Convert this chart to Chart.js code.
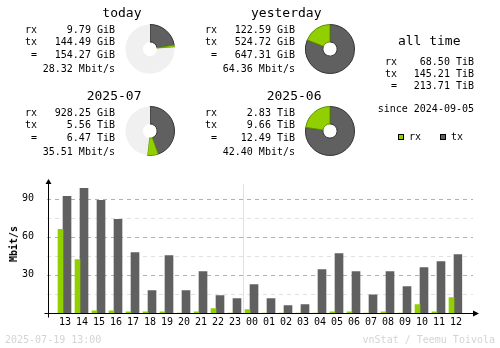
<!DOCTYPE html>
<html>
<head>
<meta charset="utf-8">
<script src="https://cdn.jsdelivr.net/npm/chart.js@4"></script>
<style>
body { margin: 0; background: #fff; }
#wrap { position: relative; width: 500px; height: 348px; overflow: hidden; background: #fff; }
#wrap canvas { position: absolute; }
.t { position: absolute; white-space: pre; color: #000; font-family: "DejaVu Sans Mono", monospace; }
</style>
</head>
<body>
<div id="wrap">
  <canvas id="bars" width="500" height="348" style="left:0;top:0"></canvas>
  <canvas id="pie0" width="50" height="50" style="left:125px;top:24px"></canvas>
  <canvas id="pie1" width="50" height="50" style="left:305px;top:24px"></canvas>
  <canvas id="pie2" width="50" height="50" style="left:125px;top:106px"></canvas>
  <canvas id="pie3" width="50" height="50" style="left:305px;top:106px"></canvas>
</div>
<script>
// summary blocks
const periods = ['today', 'yesterday', '2025-07', '2025-06'];
const rxTraffic = ['9.79 GiB', '122.59 GiB', '928.25 GiB', '2.83 TiB'];
const txTraffic = ['144.49 GiB', '524.72 GiB', '5.56 TiB', '9.66 TiB'];
const totalTraffic = ['154.27 GiB', '647.31 GiB', '6.47 TiB', '12.49 TiB'];
const avgRate = ['28.32 Mbit/s', '64.36 Mbit/s', '35.51 Mbit/s', '42.40 Mbit/s'];

const allTime = ['68.50 TiB', '145.21 TiB', '213.71 TiB'];
const sinceDate = '2024-09-05';

// hourly bars
const hours = ['13','14','15','16','17','18','19','20','21','22','23',
               '00','01','02','03','04','05','06','07','08','09','10','11','12'];
const rxRate = [65.8, 42.1, 1.8, 1.8, 1.0, 1.0, 1.0, 0, 1.0, 3.4, 0,
                2.6, 0, 0, 0, 0, 1.0, 1.0, 0, 1.0, 0, 6.6, 1.0, 12.1];
const txRate = [91.8, 98.1, 88.7, 73.7, 47.6, 17.6, 45.2, 17.6, 32.6, 13.7, 11.3,
                22.3, 11.3, 5.8, 6.6, 34.2, 46.8, 32.6, 14.4, 32.6, 20.8, 35.8, 40.5, 46.0];
const yTicks = [30, 60, 90];

const RX = '#92cf00', RXD = '#5f8f00', TX = '#606060', TXD = '#333333', PIEBG = '#f0f0f0';

const wrap = document.getElementById('wrap');
function put(txt, x, y, align, size, extra) {
  const d = document.createElement('div');
  d.className = 't';
  d.textContent = txt;
  d.style.fontSize = size + 'px';
  d.style.lineHeight = size + 'px';
  d.style.top = (y - size * 0.5) + 'px';
  if (align == 'right') d.style.right = (500 - x) + 'px';
  else d.style.left = x + 'px';
  if (extra) Object.assign(d.style, extra);
  wrap.appendChild(d);
  return d;
}

function toGiB(s) {
  const p = s.split(' ');
  return parseFloat(p[0]) * (p[1] == 'TiB' ? 1024 : 1);
}

// text blocks
const blockX = [0, 180, 0, 180];
const blockY = [0, 0, 83, 83];
for (let i = 0; i < periods.length; i++) {
  const bx = blockX[i], by = blockY[i];
  put(periods[i], 141.5 + bx, 12 + by, 'right', 13);
  put('rx', 25 + bx, 29.5 + by, 'left', 10);
  put('tx', 25 + bx, 42 + by, 'left', 10);
  put('=', 31 + bx, 54.5 + by, 'left', 10);
  put(rxTraffic[i], 115 + bx, 29.5 + by, 'right', 10);
  put(txTraffic[i], 115 + bx, 42 + by, 'right', 10);
  put(totalTraffic[i], 115 + bx, 54.5 + by, 'right', 10);
  put(avgRate[i], 115 + bx, 69 + by, 'right', 10);
}

put('all time', 460.5, 40, 'right', 13);
put('rx', 385, 62, 'left', 10);
put('tx', 385, 74, 'left', 10);
put('=', 391, 86, 'left', 10);
put(allTime[0], 474, 62, 'right', 10);
put(allTime[1], 474, 74, 'right', 10);
put(allTime[2], 474, 86, 'right', 10);
put('since ' + sinceDate, 474, 108.5, 'right', 10);

// legend
function box(x, y, fill, edge) {
  const d = document.createElement('div');
  Object.assign(d.style, { position: 'absolute', left: x + 'px', top: y + 'px', width: '4px', height: '4px',
    background: fill, border: '1px solid ' + edge });
  wrap.appendChild(d);
}
box(398, 134, RX, '#000');
box(440, 134, TX, '#000');
put('rx', 409, 136.5, 'left', 10);
put('tx', 451, 136.5, 'left', 10);

put('Mbit/s', 14, 244, 'left', 10, { fontWeight: 'bold', transform: 'translate(-50%, 0) rotate(-90deg)', transformOrigin: '50% 50%' });

put('2025-07-19 13:00', 5, 340, 'left', 10, { color: '#d4d4d4' });
put('vnStat / Teemu Toivola', 495, 340, 'right', 10, { color: '#d4d4d4' });

// pies: full circle = larger of the pair (today/yesterday, month/previous month)
for (let i = 0; i < periods.length; i++) {
  const pair = i < 2 ? [0, 1] : [2, 3];
  const full = Math.max(toGiB(totalTraffic[pair[0]]), toGiB(totalTraffic[pair[1]]));
  const t = toGiB(txTraffic[i]), r = toGiB(rxTraffic[i]);
  new Chart(document.getElementById('pie' + i), {
    type: 'doughnut',
    data: {
      labels: ['tx', 'rx', ''],
      datasets: [{
        data: [t, r, Math.max(0, full - t - r)],
        backgroundColor: [TX, RX, PIEBG],
        borderColor: [TXD, RXD, PIEBG],
        borderWidth: [1, 1, 0]
      }]
    },
    options: {
      responsive: false,
      animation: false,
      devicePixelRatio: 1,
      cutout: '29%',
      plugins: { legend: { display: false }, tooltip: { enabled: false } }
    }
  });
}

// grid, day separator and arrow axes
const vnAxes = {
  id: 'vnAxes',
  beforeDatasetsDraw(chart) {
    const ctx = chart.ctx, ys = chart.scales.y, xs = chart.scales.x;
    ctx.save();
    ctx.lineWidth = 1;
    ctx.setLineDash([4, 4]);
    for (let v = 15; v < ys.max; v += 15) {
      const py = Math.round(ys.getPixelForValue(v)) + 0.5;
      ctx.strokeStyle = v % 30 == 0 ? '#b0b0b0' : '#e0e0e0';
      ctx.beginPath(); ctx.moveTo(47, py); ctx.lineTo(473, py); ctx.stroke();
    }
    ctx.setLineDash([]);
    const i = hours.indexOf('00');
    const px = Math.round((xs.getPixelForValue(i - 1) + 8 + xs.getPixelForValue(i) - 5) / 2) + 0.5;
    ctx.strokeStyle = '#e0e0e0';
    ctx.beginPath(); ctx.moveTo(px, 184); ctx.lineTo(px, chart.chartArea.bottom); ctx.stroke();
    ctx.restore();
  },
  afterDatasetsDraw(chart) {
    const ctx = chart.ctx;
    const ax = chart.chartArea.left - 6, ay = chart.chartArea.bottom + 0.5;
    ctx.save();
    ctx.strokeStyle = '#000'; ctx.fillStyle = '#000'; ctx.lineWidth = 1;
    ctx.beginPath();
    ctx.moveTo(ax, 182); ctx.lineTo(ax, ay + 4);
    ctx.moveTo(ax - 4, ay); ctx.lineTo(474, ay);
    ctx.stroke();
    ctx.beginPath(); ctx.moveTo(ax, 179); ctx.lineTo(ax - 3, 184); ctx.lineTo(ax + 3, 184); ctx.closePath(); ctx.fill();
    ctx.beginPath(); ctx.moveTo(479, ay); ctx.lineTo(473, ay - 3); ctx.lineTo(473, ay + 3); ctx.closePath(); ctx.fill();
    ctx.restore();
  }
};

new Chart(document.getElementById('bars'), {
  type: 'bar',
  data: {
    labels: hours,
    datasets: [
      { label: 'rx', data: rxRate, backgroundColor: RX, barThickness: 5 },
      { label: 'tx', data: txRate, backgroundColor: TX, barThickness: 8 }
    ]
  },
  options: {
    responsive: false,
    animation: false,
    devicePixelRatio: 1,
    layout: { padding: { left: 0, top: 186, right: 37.5, bottom: 0 } },
    plugins: { legend: { display: false }, tooltip: { enabled: false } },
    scales: {
      x: {
        grid: { display: false },
        border: { display: false },
        afterFit: s => { s.height = 35; },
        ticks: {
          color: '#000', autoSkip: false, maxRotation: 0, padding: -5, labelOffset: 2,
          font: { family: 'DejaVu Sans Mono', size: 10 }
        }
      },
      y: {
        min: 0, max: 100,
        grid: { display: false },
        border: { display: false },
        afterFit: s => { s.width = 54.5; },
        ticks: {
          stepSize: 15, color: '#000', padding: 12.5,
          font: { family: 'DejaVu Sans Mono', size: 10 },
          callback: v => yTicks.includes(v) ? String(v) : ''
        }
      }
    }
  },
  plugins: [vnAxes]
});
</script>
</body>
</html>
